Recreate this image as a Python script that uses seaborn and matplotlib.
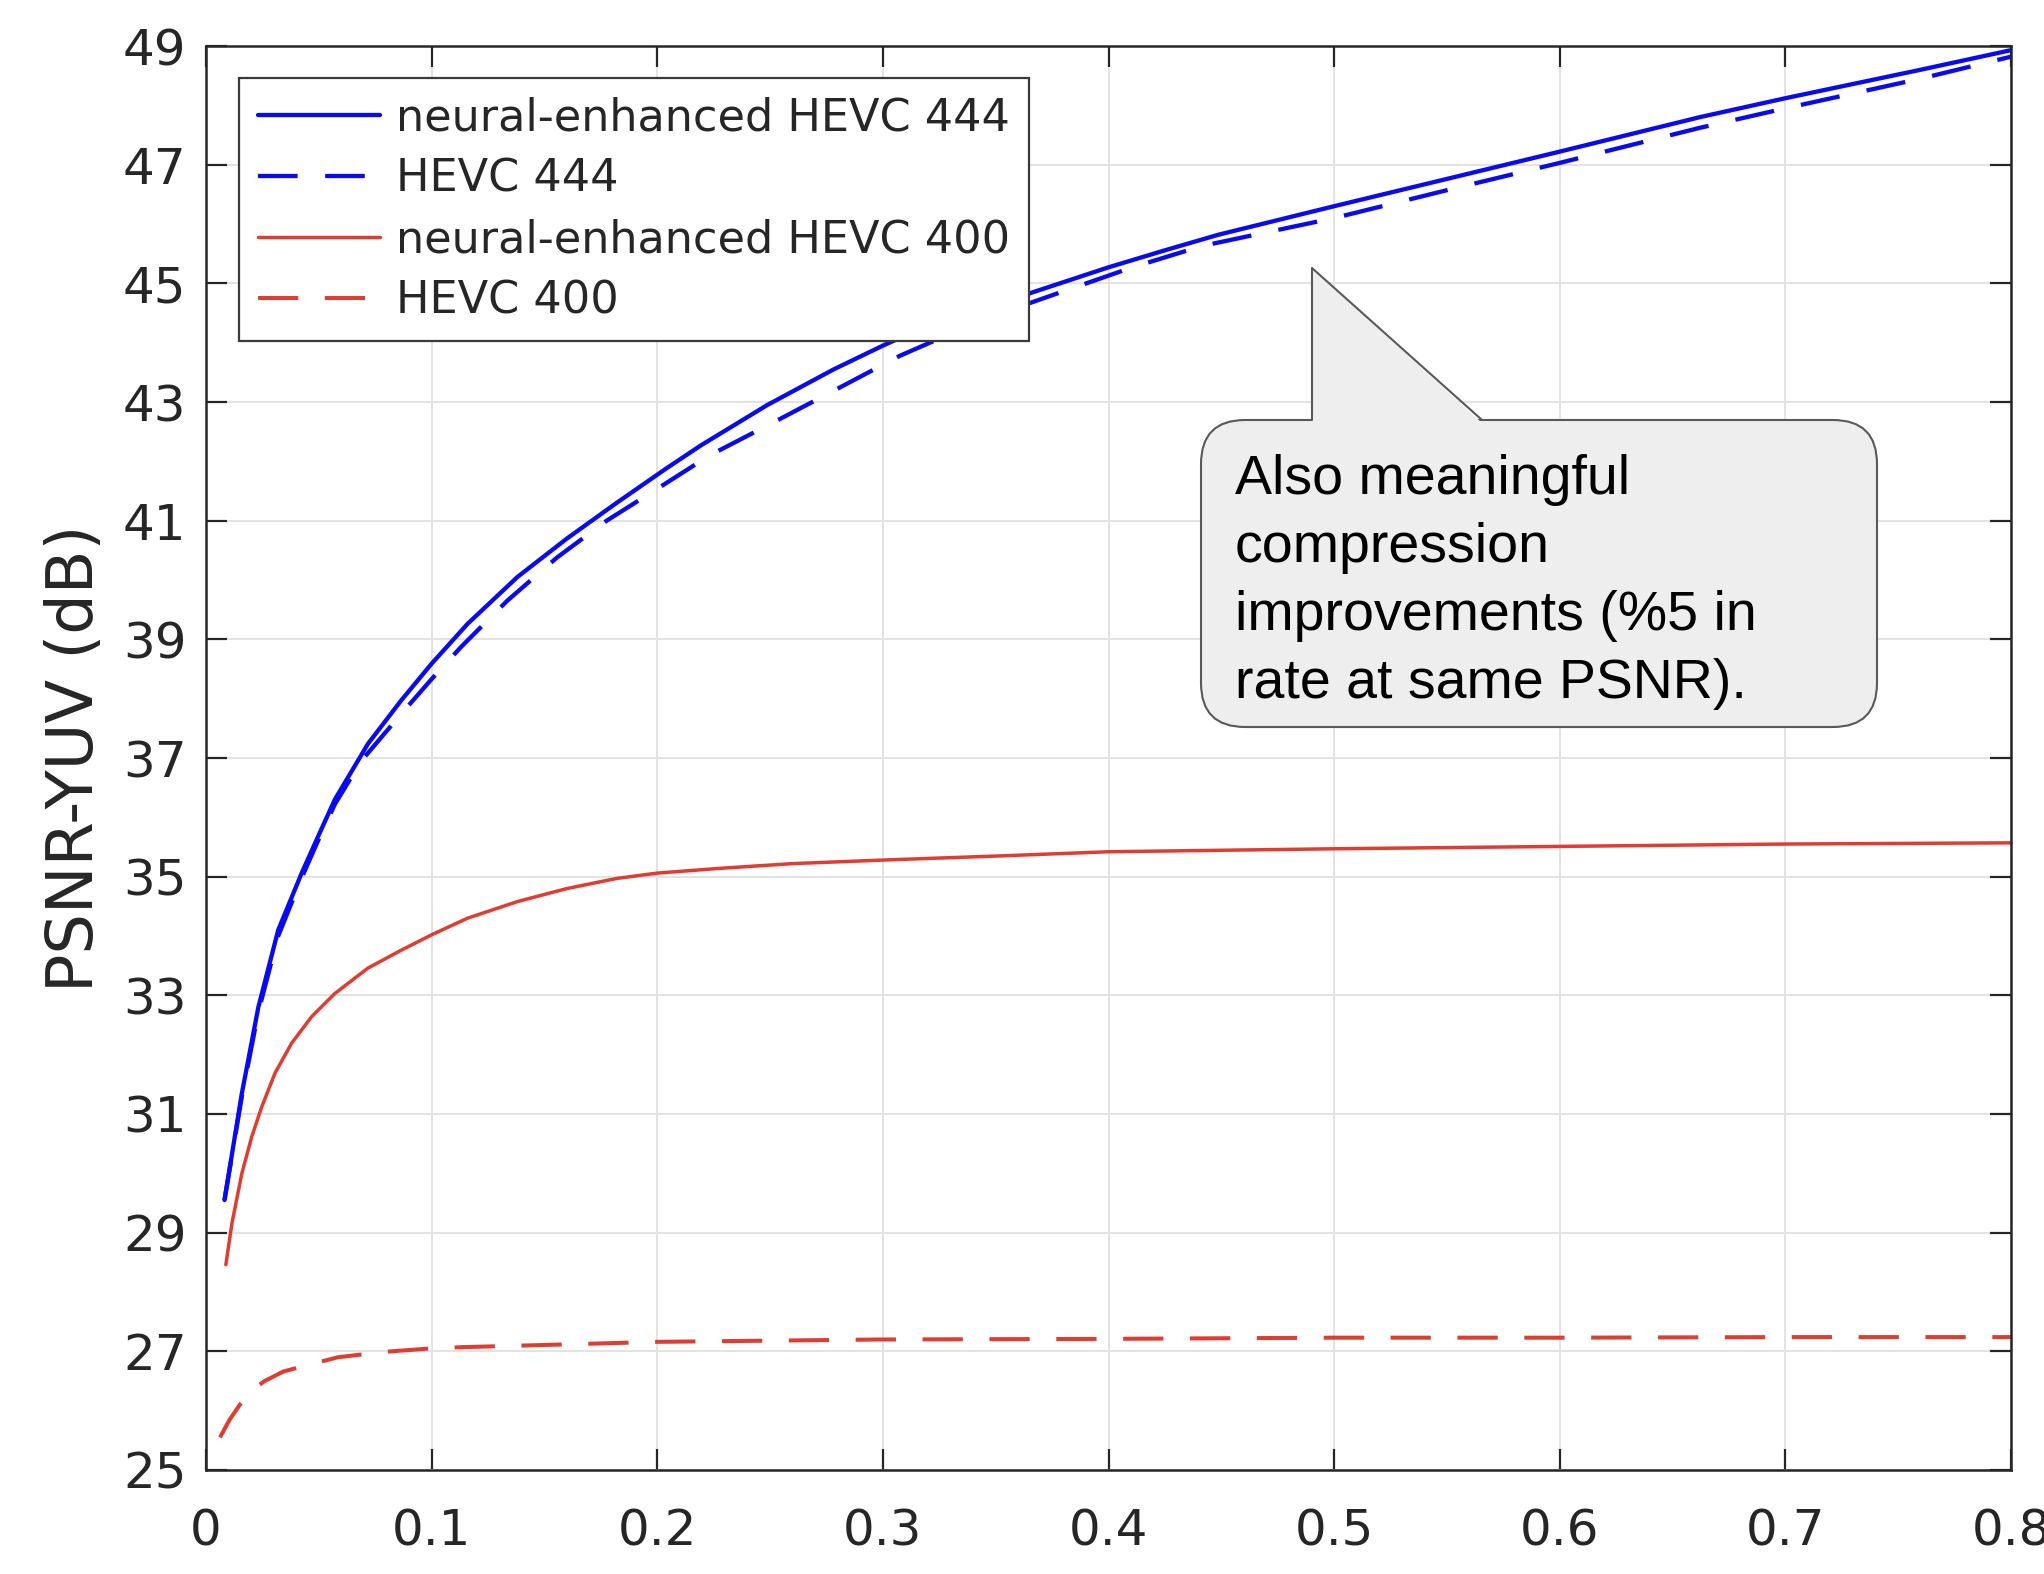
import seaborn as sns
import matplotlib.pyplot as plt
import pandas as pd
from matplotlib.patches import FancyBboxPatch, Polygon
from matplotlib.lines import Line2D

# rate (x) / PSNR-YUV (y)
ne444_rate = [0.0082, 0.0159, 0.0232, 0.032, 0.0424, 0.049, 0.0571, 0.0718, 0.0865, 0.100,
              0.1159, 0.138, 0.160, 0.182, 0.204, 0.2194, 0.2488, 0.2782, 0.300, 0.3076,
              0.3665, 0.400, 0.4253, 0.4488, 0.500, 0.550, 0.600, 0.662, 0.700, 0.760, 0.800]
ne444_psnr = [29.55, 31.35, 32.8, 34.1, 35.06, 35.62, 36.3, 37.24, 37.97, 38.59,
              39.26, 40.05, 40.7, 41.3, 41.88, 42.27, 42.95, 43.55, 43.95, 44.08,
              44.85, 45.27, 45.56, 45.82, 46.3, 46.76, 47.22, 47.8, 48.12, 48.6, 48.93]

hevc444_rate = [0.0082, 0.0159, 0.0232, 0.032, 0.0424, 0.049, 0.0571, 0.0688, 0.086, 0.100,
                0.113, 0.1335, 0.1556, 0.1776, 0.2026, 0.2232, 0.2547, 0.2812, 0.3076, 0.345,
                0.3826, 0.4106, 0.4415, 0.500, 0.550, 0.600, 0.662, 0.700, 0.760, 0.800]
hevc444_psnr = [29.55, 31.3, 32.72, 34.0, 34.98, 35.55, 36.22, 36.95, 37.72, 38.33,
                38.87, 39.65, 40.38, 41.0, 41.6, 42.1, 42.72, 43.25, 43.78, 44.4,
                44.9, 45.27, 45.63, 46.1, 46.57, 47.03, 47.62, 47.95, 48.45, 48.82]

ne400_rate = [0.0088, 0.0115, 0.0159, 0.0203, 0.0247, 0.0306, 0.0379, 0.0468, 0.0571, 0.0718,
              0.0865, 0.100, 0.1159, 0.138, 0.160, 0.182, 0.200, 0.2276, 0.260, 0.300,
              0.352, 0.400, 0.500, 0.600, 0.700, 0.800]
ne400_psnr = [28.46, 29.16, 30.0, 30.62, 31.12, 31.69, 32.19, 32.64, 33.03, 33.46,
              33.76, 34.02, 34.3, 34.58, 34.8, 34.97, 35.06, 35.14, 35.22, 35.28,
              35.35, 35.42, 35.47, 35.51, 35.55, 35.57]

hevc400_rate = [0.0062, 0.0105, 0.0150, 0.0195, 0.026, 0.0343, 0.0461, 0.0585, 0.0786, 0.100,
                0.1133, 0.143, 0.172, 0.200, 0.300, 0.400, 0.500, 0.600, 0.700, 0.800]
hevc400_psnr = [25.55, 25.85, 26.1, 26.32, 26.5, 26.66, 26.78, 26.9, 26.99, 27.05,
                27.07, 27.1, 27.13, 27.16, 27.2, 27.21, 27.23, 27.23, 27.24, 27.24]

series_names = ["neural-enhanced HEVC 444", "HEVC 444",
                "neural-enhanced HEVC 400", "HEVC 400"]
x_ticks = [0, 0.1, 0.2, 0.3, 0.4, 0.5, 0.6, 0.7, 0.8]
x_tick_labels = ["0", "0.1", "0.2", "0.3", "0.4", "0.5", "0.6", "0.7", "0.8"]
y_ticks = [25, 27, 29, 31, 33, 35, 37, 39, 41, 43, 45, 47, 49]
callout_text = "Also meaningful\ncompression\nimprovements (%5 in\nrate at same PSNR)."

BLUE = "#0a0af2"
RED = "#e03c32"
W, H = 2044, 1574

sns.set_style("ticks")
plt.rcParams["font.family"] = ["DejaVu Sans"]

frames = []
for name, rate, psnr in zip(series_names,
                            [ne444_rate, hevc444_rate, ne400_rate, hevc400_rate],
                            [ne444_psnr, hevc444_psnr, ne400_psnr, hevc400_psnr]):
    frames.append(pd.DataFrame({"series": name, "rate": rate, "psnr": psnr}))
df = pd.concat(frames, ignore_index=True)

fig = plt.figure(figsize=(W / 100, H / 100), dpi=100)
ax = fig.add_axes([206 / W, (H - 1470) / H, (2011 - 206) / W, (1470 - 46) / H])

sns.lineplot(
    data=df,
    x="rate",
    y="psnr",
    hue="series",
    style="series",
    size="series",
    hue_order=series_names,
    style_order=series_names,
    size_order=series_names,
    palette=[BLUE, BLUE, RED, RED],
    dashes={series_names[0]: "", series_names[1]: (9.2, 6.4),
            series_names[2]: "", series_names[3]: (10.0, 6.6)},
    sizes={series_names[0]: 3.1, series_names[1]: 3.1,
           series_names[2]: 2.5, series_names[3]: 2.9},
    estimator=None,
    ax=ax,
)

ax.set_xlim(0, 0.8)
ax.set_ylim(25, 49)
ax.set_xticks(x_ticks)
ax.set_xticklabels(x_tick_labels)
ax.set_yticks(y_ticks)
ax.set_xlabel("")
ax.set_ylabel("PSNR-YUV (dB)", fontsize=46, color="#262626", labelpad=12)
ax.grid(True, color="#e3e3e3", linewidth=1.4)
ax.set_axisbelow(True)
for sp in ax.spines.values():
    sp.set_visible(True)
    sp.set_color("#262626")
    sp.set_linewidth(1.8)
ax.tick_params(axis="both", direction="in", top=True, right=True, length=15,
               width=1.6, color="#262626", labelsize=36, labelcolor="#262626")
ax.tick_params(axis="x", pad=27)
ax.tick_params(axis="y", pad=14)

sns.move_legend(
    ax, "upper left", bbox_to_anchor=(0.0183, 0.9775), title=None,
    frameon=True, fancybox=False, edgecolor="#3a3a3a", framealpha=1,
    fontsize=32.1, handlelength=2.75, handletextpad=0.36, labelspacing=0.4,
    borderpad=0.42, borderaxespad=0,
)
ax.get_legend().get_frame().set_linewidth(1.6)

# speech-bubble callout, positioned in figure pixels
r = 44 / W
box = FancyBboxPatch(
    (1201 / W, 1 - 727 / H), (1877 - 1201) / W, (727 - 420) / H,
    boxstyle=f"round,pad=0,rounding_size={r}", mutation_aspect=(44 / H) / r,
    transform=fig.transFigure, facecolor="#eeeeee", edgecolor="#595959",
    linewidth=1.5, zorder=5,
)
fig.add_artist(box)
tip = Polygon([(1312 / W, 1 - 423 / H), (1312 / W, 1 - 268 / H), (1482 / W, 1 - 423 / H)],
              closed=True, transform=fig.transFigure, facecolor="#eeeeee",
              edgecolor="none", zorder=6)
fig.add_artist(tip)
fig.add_artist(Line2D([1312 / W, 1312 / W, 1482 / W],
                      [1 - 420 / H, 1 - 268 / H, 1 - 420 / H],
                      transform=fig.transFigure, color="#595959", linewidth=1.5, zorder=6))
fig.text(1235 / W, 1 - 454 / H, callout_text, family=["Liberation Sans", "DejaVu Sans"],
         fontsize=40, va="top", ha="left", linespacing=1.4, color="black", zorder=7)

fig.savefig("out.png", dpi=100)
